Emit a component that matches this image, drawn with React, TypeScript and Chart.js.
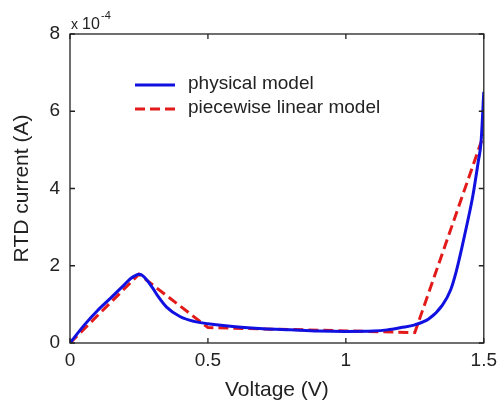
import React, { useEffect, useRef } from 'react';
import { Chart, registerables } from 'chart.js';

Chart.register(...registerables);

// Physical model (current in units of 1e-4 A)
const physX = [0, 0.05, 0.1, 0.15, 0.2, 0.22, 0.24, 0.25, 0.26, 0.28, 0.3, 0.32, 0.35, 0.4, 0.45, 0.5, 0.6, 0.7, 0.8, 0.9, 1.0, 1.1, 1.15, 1.2, 1.25, 1.3, 1.35, 1.38, 1.4, 1.42, 1.44, 1.46, 1.48, 1.49, 1.5];
const physY = [0, 0.45, 0.84, 1.18, 1.53, 1.67, 1.76, 1.78, 1.76, 1.62, 1.42, 1.2, 0.93, 0.68, 0.56, 0.5, 0.42, 0.37, 0.34, 0.31, 0.3, 0.31, 0.34, 0.4, 0.47, 0.62, 0.98, 1.38, 1.85, 2.45, 3.1, 3.8, 4.7, 5.2, 6.5];

// Piecewise linear model
const pwlX = [0, 0.25, 0.5, 1.25, 1.5];
const pwlY = [0, 1.78, 0.4, 0.27, 5.4];

const xTickValues = [0, 0.5, 1, 1.5];
const xTickLabels = ['0', '0.5', '1', '1.5'];
const yTickValues = [0, 2, 4, 6, 8];
const yTickLabels = ['0', '2', '4', '6', '8'];

const seriesNames = ['physical model', 'piecewise linear model'];
const FONT = '"Liberation Sans", Arial, sans-serif';

export default function App() {
  const ref = useRef<HTMLCanvasElement | null>(null);

  useEffect(() => {
    if (!ref.current) return;

    const framePlugin = {
      id: 'frame',
      afterDraw(chart: any) {
        const { ctx, chartArea } = chart;
        const { left, right, top, bottom } = chartArea;
        const xs = chart.scales.x;
        const ys = chart.scales.y;
        ctx.save();
        ctx.strokeStyle = '#222';
        ctx.lineWidth = 1.3;
        ctx.setLineDash([]);
        ctx.strokeRect(left, top, right - left, bottom - top);
        const tl = 5;
        ctx.beginPath();
        xTickValues.forEach((v) => {
          const px = xs.getPixelForValue(v);
          ctx.moveTo(px, bottom);
          ctx.lineTo(px, bottom - tl);
          ctx.moveTo(px, top);
          ctx.lineTo(px, top + tl);
        });
        yTickValues.forEach((v) => {
          const py = ys.getPixelForValue(v);
          ctx.moveTo(left, py);
          ctx.lineTo(left + tl, py);
          ctx.moveTo(right, py);
          ctx.lineTo(right - tl, py);
        });
        ctx.stroke();

        // exponent label
        ctx.fillStyle = '#222';
        ctx.textBaseline = 'alphabetic';
        ctx.textAlign = 'left';
        ctx.font = `14px ${FONT}`;
        ctx.fillText('x', left + 1, top - 5);
        ctx.font = `16px ${FONT}`;
        ctx.fillText('10', left + 12, top - 5);
        ctx.font = `11px ${FONT}`;
        ctx.fillText('-4', left + 31, top - 15);

        // legend
        const ds = chart.data.datasets;
        const rows = [85, 109];
        ds.forEach((d: any, i: number) => {
          const y = rows[i];
          ctx.beginPath();
          ctx.strokeStyle = d.borderColor;
          ctx.lineWidth = d.borderWidth;
          ctx.setLineDash(d.borderDash || []);
          ctx.moveTo(135, y);
          ctx.lineTo(175, y);
          ctx.stroke();
          ctx.setLineDash([]);
          ctx.fillStyle = '#222';
          ctx.font = `19px ${FONT}`;
          ctx.textBaseline = 'middle';
          ctx.fillText(seriesNames[i], 188, y - 1);
        });
        ctx.restore();
      },
    };

    const chart = new Chart(ref.current, {
      type: 'line',
      data: {
        datasets: [
          {
            label: seriesNames[0],
            data: physX.map((x, i) => ({ x, y: physY[i] })),
            borderColor: '#1010e0',
            borderWidth: 3,
            pointRadius: 0,
            cubicInterpolationMode: 'monotone',
            fill: false,
          },
          {
            label: seriesNames[1],
            data: pwlX.map((x, i) => ({ x, y: pwlY[i] })),
            borderColor: '#e31a1a',
            borderWidth: 3,
            borderDash: [10, 5],
            pointRadius: 0,
            tension: 0,
            fill: false,
          },
        ],
      },
      plugins: [framePlugin],
      options: {
        animation: false,
        responsive: false,
        maintainAspectRatio: false,
        layout: { padding: { top: 34, right: 18, left: 0, bottom: 0 } },
        plugins: {
          legend: { display: false },
          tooltip: { enabled: false },
        },
        scales: {
          x: {
            type: 'linear',
            min: 0,
            max: 1.5,
            afterBuildTicks: (scale: any) => {
              scale.ticks = xTickValues.map((v) => ({ value: v }));
            },
            afterFit: (scale: any) => {
              scale.height = 60;
            },
            ticks: {
              color: '#222',
              font: { family: FONT, size: 19 },
              padding: 6,
              maxRotation: 0,
              autoSkip: false,
              callback: (v: any) => {
                const idx = xTickValues.indexOf(Number(v));
                return idx >= 0 ? xTickLabels[idx] : '';
              },
            },
            grid: { display: false, drawTicks: false },
            border: { display: false },
            title: {
              display: true,
              text: 'Voltage (V)',
              color: '#222',
              font: { family: FONT, size: 21 },
              padding: { top: 0, bottom: 0 },
            },
          },
          y: {
            type: 'linear',
            min: 0,
            max: 8,
            afterBuildTicks: (scale: any) => {
              scale.ticks = yTickValues.map((v) => ({ value: v }));
            },
            afterFit: (scale: any) => {
              scale.width = 70;
            },
            ticks: {
              color: '#222',
              font: { family: FONT, size: 19 },
              padding: 10,
              autoSkip: false,
              callback: (v: any) => {
                const idx = yTickValues.indexOf(Number(v));
                return idx >= 0 ? yTickLabels[idx] : '';
              },
            },
            grid: { display: false, drawTicks: false },
            border: { display: false },
            title: {
              display: true,
              text: 'RTD current (A)',
              color: '#222',
              font: { family: FONT, size: 21 },
              padding: { top: 10, bottom: 0 },
            },
          },
        },
      } as any,
    });
    return () => chart.destroy();
  }, []);

  return (
    <div style={{ position: 'fixed', left: 0, top: 0, width: 503, height: 403, background: '#fff' }}>
      <canvas ref={ref} width={503} height={403} style={{ width: 503, height: 403, display: 'block' }} />
    </div>
  );
}
